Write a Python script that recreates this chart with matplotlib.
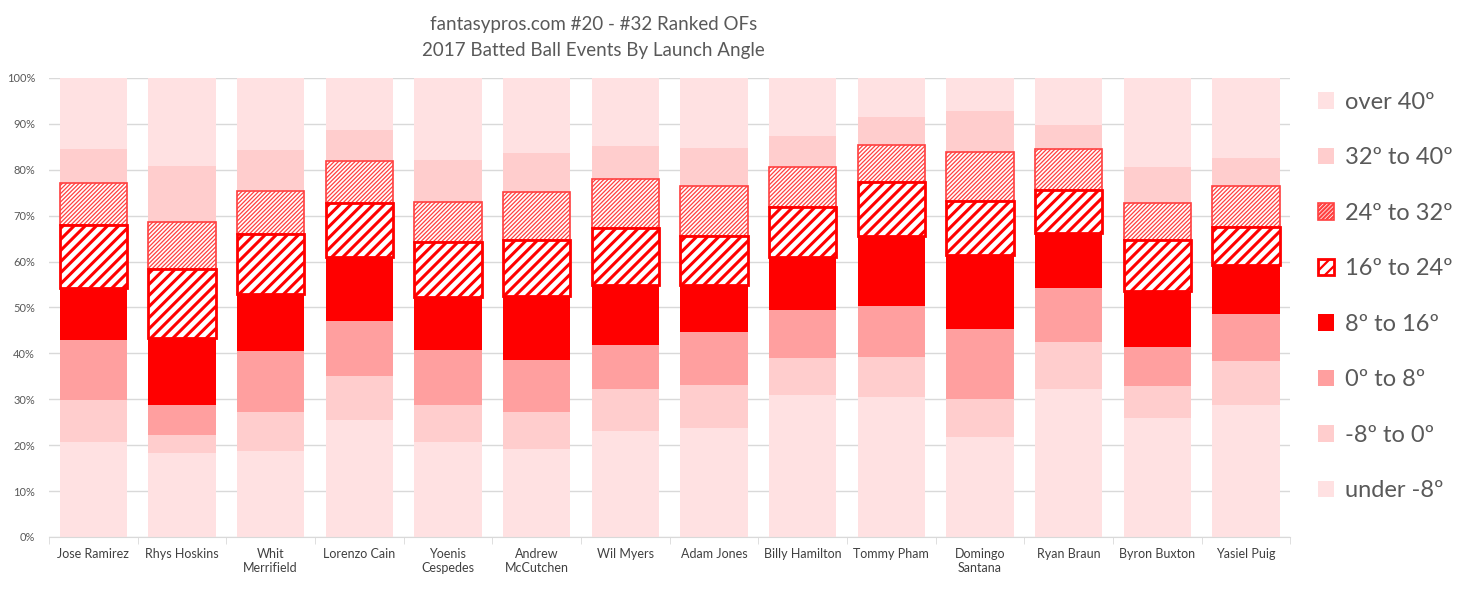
import matplotlib.pyplot as plt
import numpy as np

plt.rcParams['font.family'] = ['Lato', 'DejaVu Sans']

players = ['Jose Ramirez', 'Rhys Hoskins', 'Whit\nMerrifield', 'Lorenzo Cain',
           'Yoenis\nCespedes', 'Andrew\nMcCutchen', 'Wil Myers', 'Adam Jones',
           'Billy Hamilton', 'Tommy Pham', 'Domingo\nSantana', 'Ryan Braun',
           'Byron Buxton', 'Yasiel Puig']

buckets = ['under -8º', '-8º to 0º', '0º to 8º', '8º to 16º',
           '16º to 24º', '24º to 32º', '32º to 40º', 'over 40º']

# share of batted balls (%) per launch-angle bucket, one list per bucket
under_m8 = [20.8, 18.4, 18.8, 25.4, 20.6, 19.1, 23.2, 23.8, 31.0, 30.6, 21.7, 32.3, 26.0, 28.8]
m8_to_0 = [9.1, 3.9, 8.5, 9.7, 8.2, 8.2, 9.1, 9.4, 8.1, 8.7, 8.4, 10.2, 7.0, 9.6]
a0_to_8 = [13.1, 6.5, 13.3, 12.0, 12.0, 11.2, 9.6, 11.5, 10.4, 11.1, 15.3, 11.8, 8.5, 10.2]
a8_to_16 = [11.2, 14.6, 12.3, 13.8, 11.4, 14.1, 12.9, 10.1, 11.6, 15.1, 16.0, 12.0, 12.2, 10.6]
a16_to_24 = [13.8, 15.0, 13.1, 11.9, 12.1, 12.2, 12.6, 10.7, 10.9, 11.8, 11.8, 9.4, 11.0, 8.3]
a24_to_32 = [9.1, 10.2, 9.4, 9.2, 8.7, 10.3, 10.7, 10.9, 8.5, 8.2, 10.6, 8.8, 8.1, 8.9]
a32_to_40 = [7.5, 12.3, 9.0, 6.7, 9.2, 8.6, 7.1, 8.4, 6.9, 6.1, 9.1, 5.3, 7.9, 6.2]
over_40 = [15.4, 19.1, 15.6, 11.3, 17.8, 16.3, 14.8, 15.2, 12.6, 8.4, 7.1, 10.2, 19.3, 17.4]

series = [under_m8, m8_to_0, a0_to_8, a8_to_16, a16_to_24, a24_to_32, a32_to_40, over_40]

styles = [
    dict(color='#FFE1E2', zorder=2),
    dict(color='#FFCDCD', zorder=2),
    dict(color='#FF9F9F', zorder=2),
    dict(color='#FF0000', zorder=2),
    dict(facecolor='white', edgecolor='#FF0000', hatch='///', linewidth=2.0, zorder=4),
    dict(facecolor='white', edgecolor='#FF4040', hatch='////////', linewidth=1.2, zorder=3),
    dict(color='#FFCDCD', zorder=2),
    dict(color='#FFE1E2', zorder=2),
]

plt.rcParams['hatch.linewidth'] = 1.6

fig = plt.figure(figsize=(14.62, 5.89), dpi=100)
ax = fig.add_axes([0.0335, 0.0883, 0.849, 0.7793])

x = np.arange(len(players))
bottom = np.zeros(len(players))
handles = []
for vals, lab, st in zip(series, buckets, styles):
    vals = np.array(vals)
    b = ax.bar(x, vals, 0.76, bottom=bottom, label=lab, **st)
    if 'hatch' in st:
        for p in b:
            try:
                p.set_hatch_linewidth(2.2 if st['hatch'] == '///' else 0.9)
            except AttributeError:
                pass
    handles.append(b)
    bottom += vals

ax.set_xlim(-0.5, len(players) - 0.5)
ax.set_ylim(0, 100)
ax.set_yticks(np.arange(0, 101, 10))
ax.set_yticklabels([f'{v}%' for v in range(0, 101, 10)], fontsize=8, color='#595959')
ax.yaxis.grid(True, color='#D9D9D9', linewidth=1, zorder=0)
ax.set_axisbelow(True)
ax.tick_params(axis='y', length=0, pad=10)

ax.set_xticks(x)
ax.set_xticklabels(players, fontsize=9, color='#404040')
ax.tick_params(axis='x', length=0, pad=8)
ax.set_xticks(np.arange(-0.5, len(players), 1), minor=True)
ax.tick_params(axis='x', which='minor', length=5, color='#D9D9D9')

for s in ['left', 'right', 'top']:
    ax.spines[s].set_visible(False)
ax.spines['bottom'].set_color('#D9D9D9')

fig.text(0.406, 0.972, 'fantasypros.com #20 - #32 Ranked OFs\n2017 Batted Ball Events By Launch Angle',
         ha='center', va='top', fontsize=13.5, color='#595959', linespacing=1.6)

leg = ax.legend(handles[::-1], buckets[::-1], loc='upper left', bbox_to_anchor=(1.005, 1.016),
                frameon=False, fontsize=17, labelcolor='#595959', handlelength=0.7,
                handleheight=0.7, handletextpad=0.45, labelspacing=1.46)

fig.savefig('out.png', dpi=100)
